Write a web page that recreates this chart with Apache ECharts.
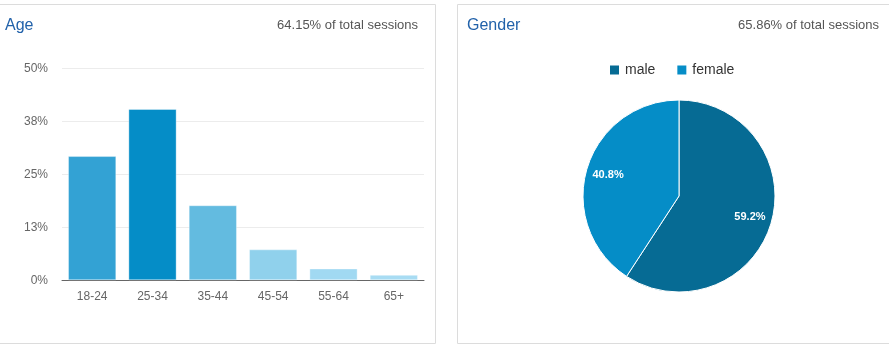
<!DOCTYPE html>
<html>
<head>
<meta charset="utf-8">
<script src="https://cdn.jsdelivr.net/npm/echarts@6/dist/echarts.min.js"></script>
<style>
  html, body { margin: 0; padding: 0; background: #fff; }
  #chart { width: 889px; height: 348px; }
</style>
</head>
<body>
<div id="chart"></div>
<script>
// Age breakdown (share of sessions, %)
const ageGroups = ['18-24', '25-34', '35-44', '45-54', '55-64', '65+'];
const ageShare = [29.3, 40.4, 17.7, 7.3, 2.8, 1.3];
const ageColors = ['#33a2d4', '#058dc7', '#63bbe0', '#90d1ec', '#a1d9f2', '#a8dcf3'];
const ageTicks = [0, 12.5, 25, 37.5, 50];

// Gender breakdown (%)
const genders = ['male', 'female'];
const genderShare = [59.2, 40.8];
const genderColors = ['#066b94', '#058dc7'];

const ageTitle = 'Age';
const ageCoverage = '64.15% of total sessions';
const genderTitle = 'Gender';
const genderCoverage = '65.86% of total sessions';

const chart = echarts.init(document.getElementById('chart'));
const font = 'Liberation Sans, Arial, sans-serif';
const border = '#dcdcdc';

const genderData = genders.map((g, i) => ({
  name: g, value: genderShare[i], itemStyle: { color: genderColors[i] }
}));

chart.setOption({
  animation: false,
  textStyle: { fontFamily: font },
  title: [
    { text: ageTitle, left: 0, top: 13, textStyle: { fontSize: 16, fontWeight: 'normal', color: '#2262aa' } },
    { text: ageCoverage, right: 466, top: 14, textStyle: { fontSize: 13, fontWeight: 'normal', color: '#555' } },
    { text: genderTitle, left: 462, top: 13, textStyle: { fontSize: 16, fontWeight: 'normal', color: '#2262aa' } },
    { text: genderCoverage, right: 5, top: 14, textStyle: { fontSize: 13, fontWeight: 'normal', color: '#555' } }
  ],
  legend: {
    data: genders,
    left: 608, top: 63, padding: 0,
    icon: 'rect', itemWidth: 11, itemHeight: 11, itemGap: 20,
    textStyle: { fontSize: 14, color: '#333' },
    selectedMode: false
  },
  grid: { left: 62, right: 465, top: 68.3, bottom: 67.7, containLabel: false },
  xAxis: {
    type: 'category',
    data: ageGroups,
    axisTick: { show: false },
    axisLine: { lineStyle: { color: '#666', width: 1 } },
    axisLabel: { color: '#666', fontSize: 12, margin: 10 }
  },
  yAxis: {
    type: 'value',
    min: 0, max: 50, interval: 12.5,
    axisLabel: {
      color: '#666', fontSize: 12, margin: 14,
      formatter: v => ageTicks.includes(v) ? Math.round(v) + '%' : ''
    },
    splitLine: { lineStyle: { color: '#ececec' } },
    axisLine: { show: false },
    axisTick: { show: false }
  },
  series: [
    {
      type: 'bar',
      barCategoryGap: '20%',
      data: ageShare.map((v, i) => ({
        value: v,
        itemStyle: { color: ageColors[i], borderColor: 'rgba(255,255,255,0.35)', borderWidth: 1 }
      }))
    },
    {
      type: 'pie',
      center: [679, 196],
      radius: 96,
      startAngle: 90,
      clockwise: true,
      label: { show: false },
      labelLine: { show: false },
      itemStyle: { borderColor: '#fff', borderWidth: 1 },
      emphasis: { disabled: true },
      data: genderData
    },
    {
      // transparent ring carrying the percentage labels further out
      type: 'pie',
      center: [679, 196],
      radius: [46, 96],
      startAngle: 90,
      clockwise: true,
      silent: true,
      legendHoverLink: false,
      itemStyle: { color: 'rgba(0,0,0,0)', borderWidth: 0 },
      label: {
        show: true, position: 'inside', color: '#fff', fontSize: 11, fontWeight: 'bold',
        formatter: p => p.value.toFixed(1) + '%'
      },
      labelLine: { show: false },
      emphasis: { disabled: true },
      data: genders.map((g, i) => ({ name: g, value: genderShare[i] }))
    }
  ],
  graphic: [
    // Age panel frame
    { type: 'line', shape: { x1: 0, y1: 4.5, x2: 435.5, y2: 4.5 }, style: { stroke: border, lineWidth: 1 } },
    { type: 'line', shape: { x1: 435.5, y1: 4.5, x2: 435.5, y2: 343.5 }, style: { stroke: border, lineWidth: 1 } },
    { type: 'line', shape: { x1: 0, y1: 343.5, x2: 435.5, y2: 343.5 }, style: { stroke: border, lineWidth: 1 } },
    // Gender panel frame
    { type: 'line', shape: { x1: 457.5, y1: 4.5, x2: 889, y2: 4.5 }, style: { stroke: border, lineWidth: 1 } },
    { type: 'line', shape: { x1: 457.5, y1: 4.5, x2: 457.5, y2: 343.5 }, style: { stroke: border, lineWidth: 1 } },
    { type: 'line', shape: { x1: 457.5, y1: 343.5, x2: 889, y2: 343.5 }, style: { stroke: border, lineWidth: 1 } }
  ]
});
</script>
</body>
</html>
